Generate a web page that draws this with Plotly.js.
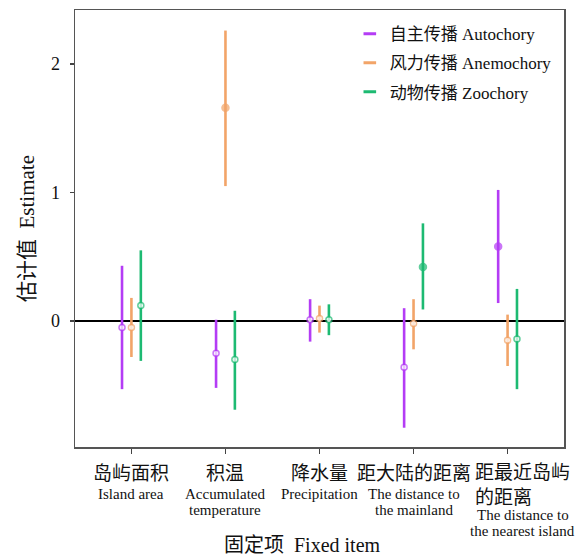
<!DOCTYPE html>
<html>
<head>
<meta charset="utf-8">
<script src="https://cdn.plot.ly/plotly-3.0.1.min.js"></script>
<style>html,body{margin:0;padding:0;background:#fff;}#chart{width:586px;height:557px;}</style>
</head>
<body>
<div id="chart"></div>
<script>
// Categories (fixed items), Chinese and English label lines
const catZh = ['岛屿面积', '积温', '降水量', '距大陆的距离', '距最近岛屿<br>的距离'];
const catEn1 = ['Island area', 'Accumulated', 'Precipitation', 'The distance to', 'The distance to'];
const catEn2 = ['', 'temperature', '', 'the mainland', 'the nearest island'];

// Series names
const seriesNames = ['自主传播 Autochory', '风力传播 Anemochory', '动物传播 Zoochory'];

// Estimates and confidence bounds
const estAuto  = [-0.05, -0.25, 0.01, -0.36, 0.58];
const loAuto   = [-0.53, -0.52, -0.16, -0.83, 0.14];
const hiAuto   = [0.43, 0.01, 0.17, 0.10, 1.02];
const sigAuto  = [0, 0, 0, 0, 1];

const estAnemo = [-0.05, 1.66, 0.02, -0.02, -0.15];
const loAnemo  = [-0.28, 1.05, -0.09, -0.22, -0.35];
const hiAnemo  = [0.18, 2.26, 0.12, 0.17, 0.05];
const sigAnemo = [0, 1, 0, 0, 0];

const estZoo   = [0.12, -0.30, 0.01, 0.42, -0.14];
const loZoo    = [-0.31, -0.69, -0.11, 0.09, -0.53];
const hiZoo    = [0.55, 0.08, 0.13, 0.76, 0.25];
const sigZoo   = [0, 0, 0, 1, 0];

const yTicks = [0, 1, 2];

const colors = ['#B43CF5', '#F2A468', '#1DBA72'];
const offsets = [-0.1, 0, 0.1];
const serif = 'Liberation Serif, Times New Roman, Noto Sans CJK SC, serif';

const series = [
  {est: estAuto, lo: loAuto, hi: hiAuto, sig: sigAuto},
  {est: estAnemo, lo: loAnemo, hi: hiAnemo, sig: sigAnemo},
  {est: estZoo, lo: loZoo, hi: hiZoo, sig: sigZoo}
];

const traces = [];
series.forEach((s, k) => {
  traces.push({
    type: 'scatter',
    mode: 'markers',
    x: catZh.map((c, i) => i + offsets[k]),
    y: s.est,
    showlegend: false,
    hoverinfo: 'skip',
    error_y: {
      type: 'data', symmetric: false,
      array: s.hi.map((h, i) => h - s.est[i]),
      arrayminus: s.lo.map((l, i) => s.est[i] - l),
      color: colors[k], thickness: 2.6, width: 0
    },
    marker: {
      symbol: 'circle',
      size: s.sig.map(v => v ? 7 : 6),
      color: s.sig.map(v => v ? colors[k] : '#ffffff'),
      line: {color: colors[k], width: 1.5}
    }
  });
});
// legend entries
seriesNames.forEach((n, k) => {
  traces.push({
    type: 'scatter', mode: 'markers', x: [null], y: [null], name: n,
    legendgroup: 'g' + k,
    marker: {symbol: 'line-ew-open', size: 9, color: colors[k], line: {color: colors[k], width: 3}}
  });
});

const annotations = [];
catZh.forEach((c, i) => {
  const last = i === catZh.length - 1;
  annotations.push({
    xref: 'x', yref: 'paper', x: i, y: 0, xanchor: 'center', yanchor: 'middle',
    xshift: last ? 15 : 0, yshift: last ? -38 : -26, align: 'left',
    text: c, showarrow: false, font: {family: serif, size: 19, color: '#111'}
  });
  annotations.push({
    xref: 'x', yref: 'paper', x: i, y: 0, xanchor: 'center', yanchor: 'middle',
    xshift: last ? 15 : 0, yshift: last ? -68 : -47,
    text: catEn1[i], showarrow: false, font: {family: serif, size: 15, color: '#111'}
  });
  if (catEn2[i]) {
    annotations.push({
      xref: 'x', yref: 'paper', x: i, y: 0, xanchor: 'center', yanchor: 'middle',
      xshift: last ? 15 : 0, yshift: last ? -84 : -63,
      text: catEn2[i], showarrow: false, font: {family: serif, size: 15, color: '#111'}
    });
  }
});
annotations.push({
  xref: 'paper', yref: 'paper', x: 0.466, y: 0, xanchor: 'center', yanchor: 'middle',
  yshift: -98, text: '固定项  Fixed item', showarrow: false,
  font: {family: serif, size: 20, color: '#111'}
});

const layout = {
  width: 586, height: 557,
  margin: {l: 75, r: 22, t: 10, b: 110},
  paper_bgcolor: '#fff', plot_bgcolor: '#fff',
  font: {family: serif, color: '#111'},
  xaxis: {
    range: [-0.6, 4.6], tickvals: catZh.map((c, i) => i), ticktext: catZh.map(() => ''),
    showticklabels: false, ticks: 'outside', ticklen: 5, tickwidth: 1.5, tickcolor: '#444',
    showgrid: false, zeroline: false, showline: true, mirror: true, linecolor: '#555', linewidth: 1.5
  },
  yaxis: {
    range: [-0.98, 2.42], tickvals: yTicks, ticktext: yTicks.map(String),
    ticks: 'outside', ticklen: 4, tickwidth: 1.5, tickcolor: '#444', ticklabelstandoff: 6,
    tickfont: {family: serif, size: 18, color: '#111'},
    showgrid: false, zeroline: true, zerolinecolor: '#000', zerolinewidth: 2,
    showline: true, mirror: true, linecolor: '#555', linewidth: 1.5,
    title: {text: '估计值  Estimate', font: {family: serif, size: 21, color: '#111'}, standoff: 10}
  },
  legend: {
    x: 0.562, y: 0.986, xanchor: 'left', yanchor: 'top',
    traceorder: 'grouped', tracegroupgap: 4,
    bgcolor: 'rgba(0,0,0,0)', borderwidth: 0,
    font: {family: serif, size: 17, color: '#111'}
  },
  annotations: annotations,
  hovermode: false
};

Plotly.newPlot('chart', traces, layout, {displayModeBar: false, staticPlot: true});
</script>
</body>
</html>
